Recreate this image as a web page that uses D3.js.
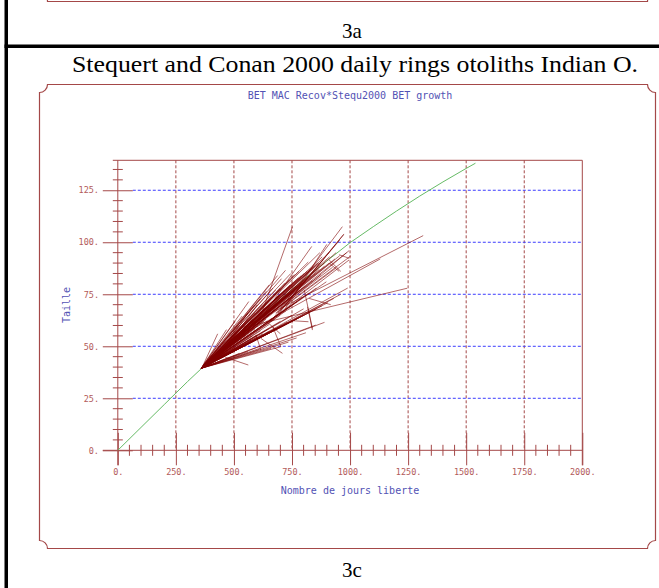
<!DOCTYPE html>
<html>
<head>
<meta charset="utf-8">
<script src="https://cdn.jsdelivr.net/npm/d3@7"></script>
<style>
  body { margin: 0; background: #fff; }
  svg { display: block; }
</style>
</head>
<body>
<svg id="chart" width="659" height="588"></svg>
<script>
// ---- data ---------------------------------------------------------------
// Reference growth curve: days vs length (cm)
const curveDays = [0, 100, 200, 300, 400, 500, 600, 700, 800, 900, 1000, 1100, 1200, 1300, 1400, 1500, 1540];
const curveLen  = [0, 11, 22, 33, 43.5, 53.5, 63, 72.5, 82, 91, 99.8, 107.5, 115, 122.2, 129, 135.5, 138];

// Fish released at ~40 cm (day 360 on the curve): recovery day and length
const releaseDay0 = 360;
const releaseLen0 = 39.5;
const coreRecoveryDay = [
  545, 552, 560, 566, 572, 580, 585, 592, 598, 604, 610, 615, 622, 628, 633, 640, 646, 652, 658, 664,
  670, 676, 682, 688, 694, 700, 706, 712, 718, 724, 730, 736, 742, 748, 754, 760, 766, 772, 778, 784,
  790, 796, 802, 808, 815, 822, 830, 838, 846, 855, 865, 875, 885, 898, 912, 925, 940, 620, 660, 700,
  740, 780, 590, 560, 530, 600, 650, 700, 750, 800, 680, 720, 760, 820, 870, 638, 672, 702, 734, 768,
  798, 612, 586, 558, 656, 690, 744, 826, 860, 890
];
const coreRecoveryLen = [
  58, 55.5, 60, 57, 61.5, 55, 62, 58.5, 63.5, 60, 65, 57.5, 66, 62, 68, 64, 69, 60.5, 70, 66,
  72, 63, 73, 68.5, 74.5, 65, 75.5, 70.5, 77, 67, 78, 73, 79.5, 69.5, 80.5, 75, 81.5, 71.5, 83, 77,
  84, 73.5, 85, 79, 86, 75.5, 87.5, 81.5, 88.5, 78, 90, 84.5, 91.5, 81, 93, 88, 95, 70, 73.5, 77.5,
  82, 86, 66, 62.5, 59, 55.5, 58.5, 62, 65, 68, 77, 80.5, 84.5, 90.5, 95, 63, 69, 71.5, 75.5, 79,
  82, 63, 60.5, 58, 67.5, 71, 76, 84, 87, 90
];

// Other growth increments: [release day, release length, recovery day, recovery length]
const fanIncrements = [
  [362, 39.6, 430, 56], [360, 39.5, 468, 58], [361, 39.8, 505, 62], [360, 39.5, 535, 64.5],
  [359, 39.4, 564, 71.5], [360, 39.5, 590, 70], [362, 39.7, 615, 73], [360, 39.5, 640, 76.5],
  [360, 39.6, 652, 79.5], [361, 39.5, 668, 78], [360, 39.5, 688, 84], [360, 39.4, 705, 82.5],
  [359, 39.5, 722, 86.5], [360, 39.5, 745, 85],
  [360, 39.5, 480, 52], [361, 39.6, 500, 53], [360, 39.5, 520, 55], [359, 39.4, 540, 56.5],
  [360, 39.5, 555, 58], [362, 39.7, 575, 60], [360, 39.5, 590, 61], [360, 39.5, 605, 63],
  [361, 39.6, 620, 64.5], [360, 39.5, 635, 66], [360, 39.4, 650, 67], [359, 39.5, 662, 68.5],
  [360, 39.5, 675, 69.5], [361, 39.6, 690, 70], [360, 39.5, 700, 72], [360, 39.5, 712, 73],
  [362, 39.7, 725, 74], [360, 39.5, 738, 75], [360, 39.5, 750, 76.5], [361, 39.5, 762, 77],
  [360, 39.5, 775, 78.5], [359, 39.4, 790, 80], [360, 39.5, 805, 81], [360, 39.6, 818, 82.5],
  [361, 39.5, 832, 84], [360, 39.5, 850, 85], [360, 39.5, 868, 87], [360, 39.5, 890, 88.5],
  [361, 39.6, 910, 90], [360, 39.5, 935, 92], [360, 39.5, 955, 93.5], [360, 39.5, 985, 95],
  [360, 39.5, 470, 47], [361, 39.5, 505, 49.5], [360, 39.5, 540, 51], [360, 39.4, 575, 53],
  [359, 39.5, 600, 54.5], [360, 39.5, 625, 56], [361, 39.6, 650, 57], [360, 39.5, 680, 58.5],
  [360, 39.5, 705, 60], [360, 39.5, 728, 61.5], [362, 39.7, 752, 62.5], [360, 39.5, 775, 63.5],
  [360, 39.5, 800, 65], [361, 39.5, 828, 66.5], [360, 39.5, 855, 68], [360, 39.5, 880, 69.5],
  [360, 39.5, 905, 71], [360, 39.6, 930, 73], [360, 39.5, 960, 75], [361, 39.5, 990, 78],
  [360, 39.5, 524, 46.6], [360, 39.5, 560, 47.5], [361, 39.5, 610, 48.5], [360, 39.5, 660, 49],
  [360, 39.5, 702, 49.8], [360, 39.5, 735, 52], [359, 39.4, 770, 54], [360, 39.5, 810, 56.5],
  [360, 39.5, 852, 60.2], [360, 39.5, 890, 61.5]
];

const laterIncrements = [
  [430, 45.5, 520, 60], [450, 47.5, 560, 66], [470, 49.5, 600, 70], [480, 50.5, 580, 63],
  [500, 52.5, 650, 72], [520, 54.5, 700, 78], [540, 56, 690, 74], [610, 63, 752, 107.5],
  [620, 64, 835, 98], [660, 62, 967, 107.5], [680, 64, 974, 104], [700, 67, 972, 103.6],
  [690, 66, 955, 101], [720, 70, 996, 96], [700, 68, 1003, 93.4], [650, 62, 996, 91.5],
  [680, 66, 938, 87.5], [720, 68, 900, 99], [600, 63, 880, 93], [640, 67, 910, 95],
  [620, 65, 860, 90], [463, 44.7, 562, 41], [616, 53.8, 709, 46.6], [752, 62.3, 821, 61.8],
  [817, 69, 838, 57.8], [803, 77, 838, 58.6], [824, 73, 917, 70], [910, 90, 953, 86],
  [953, 94, 996, 92.3], [910, 91.5, 960, 86], [520, 58, 1315, 103.2], [560, 57, 1130, 92],
  [560, 59.5, 1246, 77.9], [667, 59.4, 702, 49.8], [595, 55.4, 616, 48.2], [640, 62, 700, 56]
];

const xTicks = [0, 250, 500, 750, 1000, 1250, 1500, 1750, 2000];
const yTicks = [0, 25, 50, 75, 100, 125];

// ---- layout -------------------------------------------------------------
const svg = d3.select("#chart");
const red = "#a44848";
const redText = "#b25a5a";
const blueText = "#5252b4";
const mono = "'DejaVu Sans Mono', 'Liberation Mono', monospace";
const serif = "'Liberation Serif', 'Times New Roman', serif";

const x = d3.scaleLinear().domain([0, 2000]).range([117.8, 582.3]);
const y = d3.scaleLinear().domain([0, 139.4]).range([450.3, 160.3]);

// frame with notched corners
function notchedFrame(x0, y0, x1, y1, r) {
  const p = d3.path();
  p.moveTo(x0 + r, y0);
  p.lineTo(x1 - r, y0);
  p.arc(x1, y0, r, Math.PI, Math.PI / 2, true);
  p.lineTo(x1, y1 - r);
  p.arc(x1, y1, r, -Math.PI / 2, -Math.PI, true);
  p.lineTo(x0 + r, y1);
  p.arc(x0, y1, r, 0, -Math.PI / 2, true);
  p.lineTo(x0, y0 + r);
  p.arc(x0, y0, r, Math.PI / 2, 0, true);
  p.closePath();
  return p.toString();
}

// page rules
svg.append("rect").attr("x", 4.5).attr("y", 0).attr("width", 3.5).attr("height", 588).attr("fill", "#000");
svg.append("rect").attr("x", 4.5).attr("y", 44.5).attr("width", 655).attr("height", 3.5).attr("fill", "#000");

// frame of the panel above (only its lower edge is on the page)
svg.append("path").attr("d", notchedFrame(39.5, -470, 655.5, 1.5, 8))
  .attr("fill", "none").attr("stroke", red).attr("stroke-width", 1.2);

svg.append("text").attr("x", 352).attr("y", 38).attr("text-anchor", "middle")
  .attr("font-family", serif).attr("font-size", 21).text("3a");

svg.append("text").attr("x", 355).attr("y", 72).attr("text-anchor", "middle")
  .attr("font-family", serif).attr("font-size", 23)
  .attr("textLength", 566).attr("lengthAdjust", "spacingAndGlyphs")
  .text("Stequert and Conan 2000 daily rings otoliths Indian O.");

svg.append("path").attr("d", notchedFrame(39.5, 84.5, 655.5, 548.5, 8))
  .attr("fill", "none").attr("stroke", red).attr("stroke-width", 1.2);

svg.append("text").attr("x", 352).attr("y", 577).attr("text-anchor", "middle")
  .attr("font-family", serif).attr("font-size", 21).text("3c");

// plot titles
svg.append("text").attr("x", 350).attr("y", 99).attr("text-anchor", "middle")
  .attr("font-family", mono).attr("font-size", 10).attr("fill", blueText)
  .text("BET MAC Recov*Stequ2000 BET growth");

svg.append("text").attr("x", 350).attr("y", 494).attr("text-anchor", "middle")
  .attr("font-family", mono).attr("font-size", 10).attr("fill", blueText)
  .text("Nombre de jours liberte");

svg.append("text").attr("transform", "translate(70,305) rotate(-90)").attr("text-anchor", "middle")
  .attr("font-family", mono).attr("font-size", 10).attr("fill", blueText)
  .text("Taille");

// grid
const grid = svg.append("g");
grid.selectAll("line.vg").data(xTicks.filter(d => d > 0 && d < 2000)).join("line")
  .attr("x1", d => x(d)).attr("x2", d => x(d))
  .attr("y1", y(139.4)).attr("y2", y(0))
  .attr("stroke", red).attr("stroke-width", 1).attr("stroke-dasharray", "3,2");
grid.selectAll("line.hg").data(yTicks.filter(d => d > 0)).join("line")
  .attr("x1", x(0) + 15).attr("x2", x(2000))
  .attr("y1", d => y(d)).attr("y2", d => y(d))
  .attr("stroke", "#3c3cff").attr("stroke-width", 1).attr("stroke-dasharray", "3,2");

// minor ticks
const yMinor = d3.range(5, 139, 5).filter(d => d % 25 !== 0);
const xMinor = d3.range(50, 2000, 50).filter(d => d % 250 !== 0);
const axes = svg.append("g").attr("stroke", red).attr("stroke-width", 1);
axes.selectAll("line.ym").data(yMinor).join("line")
  .attr("x1", x(0) - 5).attr("x2", x(0) + 5)
  .attr("y1", d => y(d)).attr("y2", d => y(d));
axes.selectAll("line.xm").data(xMinor).join("line")
  .attr("x1", d => x(d)).attr("x2", d => x(d))
  .attr("y1", y(0) - 5.5).attr("y2", y(0) + 5.5);

// frame lines of the plot
axes.append("line").attr("x1", x(0)).attr("x2", x(0)).attr("y1", y(139.4)).attr("y2", y(0) + 15);
axes.append("line").attr("x1", x(2000)).attr("x2", x(2000)).attr("y1", y(139.4)).attr("y2", y(0) + 15);
axes.append("line").attr("x1", x(0) - 5).attr("x2", x(2000)).attr("y1", y(139.4)).attr("y2", y(139.4));
axes.append("line").attr("x1", x(0) - 15).attr("x2", x(2000)).attr("y1", y(0)).attr("y2", y(0));

// major ticks + labels via d3 axes
const yAxis = svg.append("g").attr("transform", `translate(${x(0)},0)`)
  .call(d3.axisLeft(y).tickValues(yTicks).tickSize(15).tickPadding(3.8).tickFormat(d => d + "."));
const xAxis = svg.append("g").attr("transform", `translate(0,${y(0)})`)
  .call(d3.axisBottom(x).tickValues(xTicks).tickSize(15).tickPadding(3.7).tickFormat(d => d + "."));

[yAxis, xAxis].forEach(g => {
  g.select(".domain").remove();
  g.selectAll("line").attr("stroke", red);
  g.selectAll("text").attr("fill", redText).attr("font-family", mono).attr("font-size", 8.5);
});
yAxis.selectAll(".tick line").attr("x1", 15);
xAxis.selectAll(".tick line").attr("y1", -17.5);

// growth curve
const curve = curveDays.map((d, i) => [d, curveLen[i]]);
svg.append("path").datum(curve)
  .attr("d", d3.line().x(d => x(d[0])).y(d => y(d[1])))
  .attr("fill", "none").attr("stroke", "#66bb66").attr("stroke-width", 1);

// growth increments
const coreIncrements = coreRecoveryDay.map((d, i) => [releaseDay0, releaseLen0, d, coreRecoveryLen[i]]);
svg.append("g").selectAll("line").data(fanIncrements.concat(coreIncrements, laterIncrements)).join("line")
  .attr("x1", d => x(d[0])).attr("y1", d => y(d[1]))
  .attr("x2", d => x(d[2])).attr("y2", d => y(d[3]))
  .attr("stroke", "#7f0000").attr("stroke-opacity", 0.65).attr("stroke-width", 0.9);
</script>
</body>
</html>
